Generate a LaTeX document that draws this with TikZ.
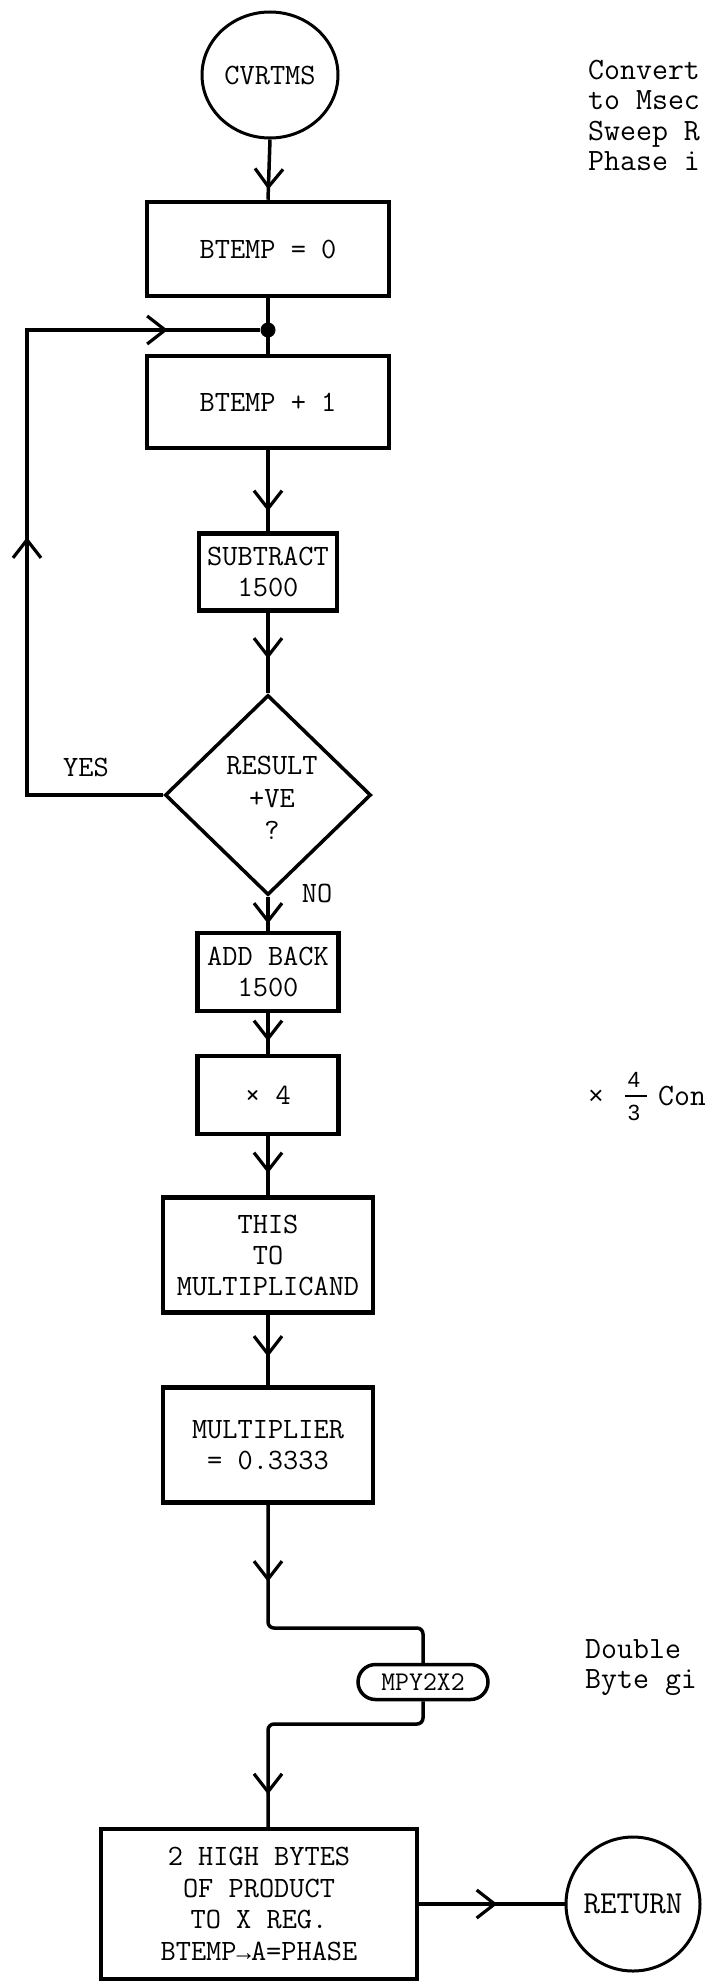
\documentclass[tikz,border=0pt]{standalone}
\usepackage{fontspec}
\usetikzlibrary{shapes.geometric,shapes.misc,arrows.meta,decorations.markings}
\newfontfamily\libmono{Liberation Mono}
\newfontfamily\sansnote{Liberation Sans}
\newcommand{\boxfnt}[2]{\ttfamily\addfontfeatures{FakeBold=1.2}\fontsize{#1}{#2}\selectfont}
\newcommand{\notefnt}{\ttfamily\fontsize{31}{31}\selectfont}
\begin{document}
\begin{tikzpicture}[x=1pt,y=-1pt,
  box/.style={draw,rectangle,line width=4.5pt,inner sep=0pt,align=center,font=\boxfnt{29.5}{31}},
  lbl/.style={inner sep=0pt,align=center,font=\boxfnt{29.5}{32.5}},
  conn/.style={line width=3.5pt},
  arrat/.style={postaction={decorate,decoration={markings,mark=at position #1 with {\arrow{Straight Barb[length=18pt,width=28pt,line width=3.2pt]}}}}},
  note/.style={anchor=base west,inner sep=0pt,font=\notefnt},
  sn/.style={inner sep=0pt,font=\sansnote\fontsize{22}{22}\selectfont},
]
\useasboundingbox (0,0) rectangle (704,1983);
\fill[white] (0,0) rectangle (704,1983);

% nodes
\node[draw,ellipse,line width=3pt,minimum width=136pt,minimum height=126pt,inner sep=0pt,
      font=\boxfnt{29.5}{31}] (start) at (270,75) {CVRTMS};
\node[box,minimum width=242pt,minimum height=94pt] (b0) at (268,249) {BTEMP = 0};
\node[circle,fill,inner sep=0pt,minimum size=15pt] (dot) at (268,330) {};
\node[box,minimum width=242pt,minimum height=92pt] (b1) at (268,402) {BTEMP + 1};
\node[box,minimum width=138pt,minimum height=77pt] (sub) at (268,572) {SUBTRACT\\1500};
\node[draw,diamond,line width=3.5pt,minimum width=206pt,minimum height=200pt,inner sep=0pt] (dia) at (268,795) {};
\node[lbl] (diat) at (272,798) {RESULT\\+VE\\?};
\node[lbl] (yes) at (86,767) {YES};
\node[lbl] (no) at (317,893) {NO};
\node[box,minimum width=141pt,minimum height=78pt] (add) at (268,972) {ADD BACK\\1500};
\node[box,minimum width=141pt,minimum height=78pt] (x4) at (268,1095) {× 4};
\node[box,minimum width=210pt,minimum height=115pt] (this) at (268,1255) {THIS\\TO\\MULTIPLICAND};
\node[box,minimum width=210pt,minimum height=115pt] (mult) at (268,1445) {MULTIPLIER\\= 0.3333};
\node[draw,rounded rectangle,line width=3.5pt,minimum width=130pt,minimum height=35pt,inner sep=0pt,
      font=\boxfnt{27}{29}] (mpy) at (423,1682) {MPY2X2};
\node[box,minimum width=316pt,minimum height=150pt,font=\boxfnt{29.5}{31.5}] (bot) at (259,1904)
  {2 HIGH BYTES\\OF PRODUCT\\TO X REG.\\BTEMP{\libmono\fontsize{24}{24}\selectfont →}A=PHASE};
\node[draw,circle,line width=3pt,minimum size=134pt,inner sep=0pt,
      font=\boxfnt{32}{34}] (ret) at (633,1904) {RETURN};

% connectors
\draw[conn,arrat=50pt] (start.south) -- (b0.north);
\draw[conn] (b0.south) -- (b1.north);
\draw[conn,arrat=61pt] (b1.south) -- (sub.north);
\draw[conn,arrat=46pt] (sub.south) -- (dia.north);
\draw[conn,arrat=27pt] (dia.south) -- (add.north);
\draw[conn,arrat=28pt] (add.south) -- (x4.north);
\draw[conn,arrat=37pt] (x4.south) -- (this.north);
\draw[conn,arrat=42pt] (this.south) -- (mult.north);
\draw[conn,rounded corners=6pt,arrat=77pt] (mult.south) -- (mult.south |- 0,1628) -- (mpy.north |- 0,1628) -- (mpy.north);
\draw[conn,rounded corners=6pt,arrat=243pt] (mpy.south) -- (mpy.south |- 0,1724) -- (mult.south |- 0,1724) -- (mult.south |- bot.north);
\draw[conn,arrat=394pt,arrat=742pt] (dia.west) -- (dia.west -| 27,0) -- (dot.west -| 27,0) -- (dot.west);
\draw[conn,arrat=78pt] (bot.east) -- (ret.west);

% side notes
\node[note] (n1) at (588,80) {Convert};
\node[note] (n2) at (588,110) {to Msec};
\node[note] (n3) at (588,140) {Sweep R};
\node[note] (n4) at (588,171) {Phase i};

\node[sn,font=\sansnote\fontsize{26}{26}\selectfont] (tm) at (596,1097) {×};
\node[sn] (f4) at (634,1080) {4};
\node[sn] (f3) at (634,1113) {3};
\draw[line width=1.6pt] (625,1096) -- (647,1096);
\node[note] (con) at (658,1105) {Con};

\node[note] (d1) at (585,1658) {Double};
\node[note] (d2) at (585,1688) {Byte gi};
\end{tikzpicture}
\end{document}
